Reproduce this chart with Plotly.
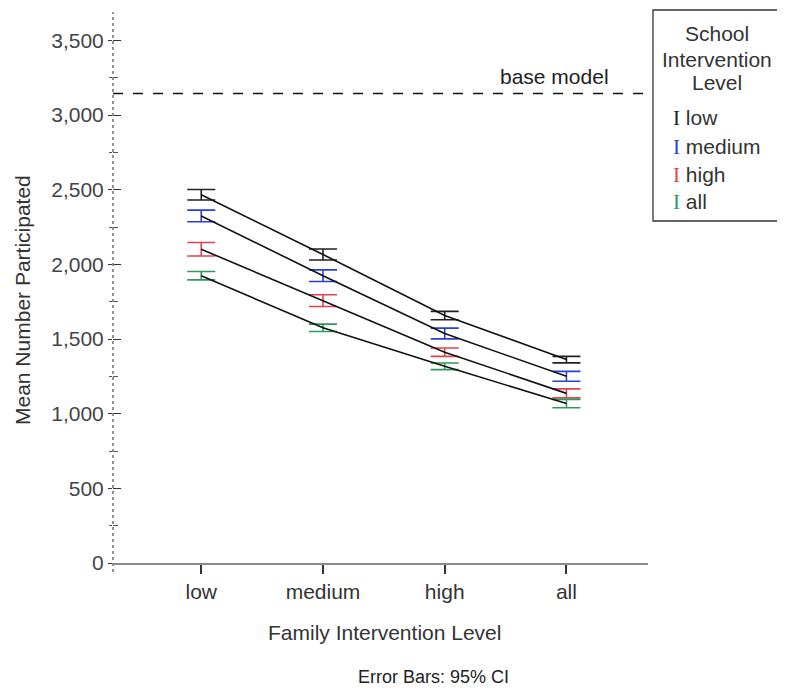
import plotly.graph_objects as go

family_levels = ["low", "medium", "high", "all"]
school_levels = ["low", "medium", "high", "all"]
series_colors = ["#222222", "#2a3fd0", "#e0454f", "#2e9a5a"]

mean_low = [2466, 2066, 1657, 1362]
mean_medium = [2324, 1924, 1537, 1250]
mean_high = [2101, 1757, 1412, 1136]
mean_all = [1924, 1575, 1317, 1068]

ci_low = [35, 37, 28, 22]
ci_medium = [39, 39, 36, 33]
ci_high = [45, 39, 28, 30]
ci_all = [28, 25, 22, 28]

base_model = 3145
y_ticks = [0, 500, 1000, 1500, 2000, 2500, 3000, 3500]

means = [mean_low, mean_medium, mean_high, mean_all]
cis = [ci_low, ci_medium, ci_high, ci_all]

FONT = "Liberation Sans, Arial, sans-serif"
TXT = "#333333"
OFF = 8  # page body margin
L, R, T, B = 113, 648, 12, 563
W = R - L
H = B - T


def px(x):
    return (x - L) / W


def py(y):
    return (B - y) / H


fig = go.Figure()

for name, m, c, col in zip(school_levels, means, cis, series_colors):
    fig.add_trace(go.Scatter(
        x=family_levels, y=m, mode="lines", name=name,
        line=dict(color="#111111", width=1.6),
        error_y=dict(type="data", array=c, visible=True, color=col,
                     thickness=1.6, width=14),
        showlegend=False, hoverinfo="skip"))

# dummy trace on overlay axis for inward ticks
fig.add_trace(go.Scatter(x=[family_levels[0]], y=[None], yaxis="y2",
                         showlegend=False, hoverinfo="skip"))

fig.update_layout(
    width=785 - OFF, height=698 - OFF,
    margin=dict(l=L - OFF, r=785 - R, t=T - OFF, b=698 - B, pad=0),
    paper_bgcolor="white", plot_bgcolor="white",
    font=dict(family=FONT, size=21, color=TXT),
    showlegend=False,
    xaxis=dict(
        type="category", range=[-0.725, 3.67], automargin=False,
        showline=True, linecolor="#8a8a8a", linewidth=1.5,
        ticks="outside", ticklen=9, tickcolor="#333333", tickwidth=1.5,
        showgrid=False, zeroline=False,
        tickfont=dict(size=21, color=TXT),
    ),
    yaxis=dict(
        range=[0, 3690], tickvals=y_ticks, tickformat=",", automargin=False,
        showline=False, showgrid=False, zeroline=False,
        ticks="outside", ticklen=4, tickcolor="#333333", tickwidth=1.3,
        minor=dict(dtick=250, tick0=0, ticks="outside", ticklen=3,
                   tickcolor="#555555", tickwidth=1.2),
        tickfont=dict(size=21, color="#444444"),
    ),
    yaxis2=dict(
        overlaying="y", side="left", range=[0, 3690], tickvals=y_ticks,
        showticklabels=False, showline=False, showgrid=False, zeroline=False,
        automargin=False,
        ticks="inside", ticklen=8, tickcolor="#333333", tickwidth=1.3,
        minor=dict(dtick=250, tick0=0, ticks="inside", ticklen=5,
                   tickcolor="#555555", tickwidth=1.2),
    ),
)

# axis titles
fig.add_annotation(text="Mean Number Participated", xref="paper", yref="paper",
                   x=px(22), y=py(300), textangle=-90, showarrow=False,
                   xanchor="center", yanchor="middle",
                   font=dict(size=21, color=TXT))
fig.add_annotation(text="Family Intervention Level", xref="paper", yref="paper",
                   x=px(384), y=py(632), showarrow=False,
                   xanchor="center", yanchor="middle",
                   font=dict(size=21, color=TXT))

# dotted y axis line
fig.add_shape(type="line", xref="paper", yref="paper", x0=0, x1=0,
              y0=py(572), y1=1, line=dict(color="#777777", width=1.6, dash="dot"))
# base model line
fig.add_shape(type="line", xref="paper", yref="y", x0=0, x1=px(643),
              y0=base_model, y1=base_model,
              line=dict(color="#111111", width=1.5, dash="10px,10px"))
fig.add_annotation(text="base model", xref="paper", yref="y", x=px(554),
                   y=base_model, yshift=17, showarrow=False,
                   xanchor="center", yanchor="middle",
                   font=dict(size=21, color="#222222"))

# legend box
fig.add_shape(type="rect", xref="paper", yref="paper",
              x0=px(653), x1=px(781), y0=py(221), y1=py(10),
              line=dict(color="#333333", width=1.3), fillcolor="white",
              layer="above")
title_y = [34, 59, 82]
for line_text, yy in zip(["School", "Intervention", "Level"], title_y):
    fig.add_annotation(text=line_text, xref="paper", yref="paper",
                       x=px(717), y=py(yy), showarrow=False,
                       xanchor="center", yanchor="middle",
                       font=dict(size=21, color=TXT))
item_y = [118, 147, 175, 202]
for name, col, yy in zip(school_levels, series_colors, item_y):
    fig.add_annotation(
        text=f"<span style='font-family:Liberation Serif;color:{col}'>I</span> {name}",
        xref="paper", yref="paper", x=px(671), y=py(yy),
        xanchor="left", yanchor="middle", showarrow=False,
        font=dict(size=21, color=TXT))

fig.add_annotation(text="Error Bars: 95% CI", xref="paper", yref="paper",
                   x=px(433), y=py(677), showarrow=False,
                   xanchor="center", yanchor="middle",
                   font=dict(size=18, color="#222222"))

fig.write_html("out.html")
